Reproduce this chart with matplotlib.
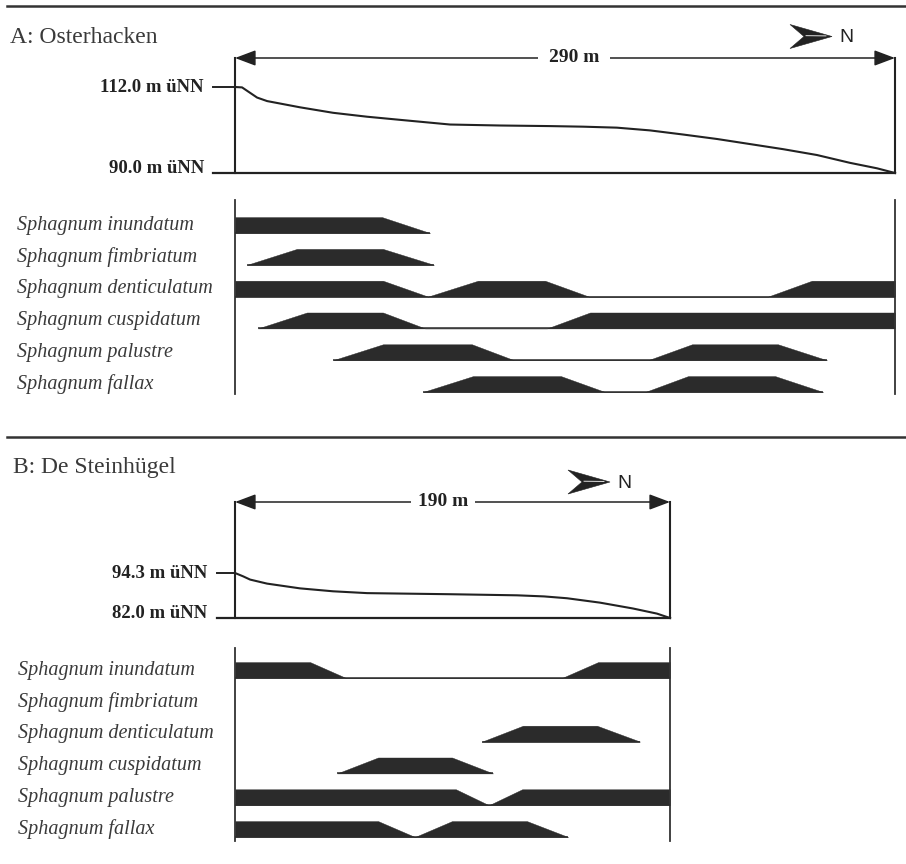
import matplotlib
matplotlib.use('Agg')
import matplotlib.pyplot as plt
import matplotlib.transforms as mtrans
from matplotlib.patches import Polygon
from matplotlib.lines import Line2D

# ------------------------------------------------------------------ data
species = ['Sphagnum inundatum', 'Sphagnum fimbriatum', 'Sphagnum denticulatum',
           'Sphagnum cuspidatum', 'Sphagnum palustre', 'Sphagnum fallax']

# Transect A: Osterhacken
a_title = 'A: Osterhacken'
a_length = 290
a_top_elev, a_base_elev = 112.0, 90.0
a_top_label, a_base_label = '112.0 m üNN', '90.0 m üNN'
a_prof_dist = [0, 3.1, 9.7, 14.1, 28.6, 43.1, 58.0, 72.5, 94.5, 116.5, 138.4, 153.0, 167.8,
               182.3, 196.8, 211.8, 226.3, 240.8, 255.7, 270.2, 282.1, 290]
a_prof_elev = [112.0, 111.9, 109.3, 108.4, 106.8, 105.4, 104.4, 103.6, 102.4, 102.15, 102.0, 101.85, 101.6,
               100.9, 99.85, 98.7, 97.4, 96.1, 94.6, 92.6, 91.2, 90.0]

a_inundatum_d = [0, 64.6, 85.7]
a_inundatum_v = [1, 1, 0]
a_fimbriatum_d = [5.3, 27.2, 65.0, 87.4]
a_fimbriatum_v = [0, 1, 1, 0]
a_denticulatum_d = [0, 65.0, 84.8, 106.8, 136.2, 155.5, 234.2, 253.5, 290]
a_denticulatum_v = [1, 1, 0, 1, 1, 0, 0, 1, 1]
a_cuspidatum_d = [10.1, 31.6, 65.0, 83.5, 137.1, 156.0, 290]
a_cuspidatum_v = [0, 1, 1, 0, 0, 1, 1]
a_palustre_d = [43.1, 65.0, 104.1, 122.6, 181.5, 200.8, 238.6, 260.1]
a_palustre_v = [0, 1, 1, 0, 0, 1, 1, 0]
a_fallax_d = [82.6, 104.6, 143.2, 162.6, 180.2, 199.1, 237.3, 258.4]
a_fallax_v = [0, 1, 1, 0, 0, 1, 1, 0]

# Transect B: De Steinhügel
b_title = 'B: De Steinhügel'
b_length = 190
b_top_elev, b_base_elev = 94.3, 82.0
b_top_label, b_base_label = '94.3 m üNN', '82.0 m üNN'
b_prof_dist = [0, 3.5, 6.6, 14.0, 28.4, 42.8, 57.7, 93.9, 123.2, 135.0, 145.0, 159.4, 173.8, 184.3, 190]
b_prof_elev = [94.3, 93.4, 92.5, 91.4, 90.1, 89.3, 88.8, 88.5, 88.2, 87.9, 87.4, 86.2, 84.6, 83.2, 82.0]

b_inundatum_d = [0, 32.8, 48.5, 142.8, 158.6, 190]
b_inundatum_v = [1, 1, 0, 0, 1, 1]
b_fimbriatum_d = []
b_fimbriatum_v = []
b_denticulatum_d = [107.9, 125.8, 158.1, 176.9]
b_denticulatum_v = [0, 1, 1, 0]
b_cuspidatum_d = [44.6, 62.5, 94.8, 112.7]
b_cuspidatum_v = [0, 1, 1, 0]
b_palustre_d = [0, 96.5, 110.9, 125.4, 190]
b_palustre_v = [1, 1, 0, 1, 1]
b_fallax_d = [0, 62.5, 78.6, 94.8, 127.5, 145.5]
b_fallax_v = [1, 1, 0, 1, 1, 0]

a_bands = [(a_inundatum_d, a_inundatum_v), (a_fimbriatum_d, a_fimbriatum_v),
           (a_denticulatum_d, a_denticulatum_v), (a_cuspidatum_d, a_cuspidatum_v),
           (a_palustre_d, a_palustre_v), (a_fallax_d, a_fallax_v)]
b_bands = [(b_inundatum_d, b_inundatum_v), (b_fimbriatum_d, b_fimbriatum_v),
           (b_denticulatum_d, b_denticulatum_v), (b_cuspidatum_d, b_cuspidatum_v),
           (b_palustre_d, b_palustre_v), (b_fallax_d, b_fallax_v)]

# ------------------------------------------------------------------ style
W, H = 906, 864
SERIF = 'Liberation Serif'
SANS = 'Liberation Sans'
INK = '#222222'
BAND = '#2b2b2b'
GREY_TXT = '#3a3a3a'
BAND_H = 0.5

fig = plt.figure(figsize=(W / 100, H / 100), dpi=100)
fig.patch.set_facecolor('white')
PX = mtrans.Affine2D().scale(1 / W, -1 / H).translate(0, 1) + fig.transFigure


def px_axes(x0, y0, x1, y1):
    ax = fig.add_axes([x0 / W, 1 - y1 / H, (x1 - x0) / W, (y1 - y0) / H])
    ax.set_axis_off()
    return ax


def header(y_rule, title, x_title, y_title):
    fig.add_artist(Line2D([7, W], [y_rule, y_rule], transform=PX, color='#333333', lw=1.8))
    fig.text(x_title / W, 1 - y_title / H, title, fontfamily=SERIF, fontsize=17,
             color=GREY_TXT, ha='left', va='baseline')


def north(tip_x, cy):
    poly = [(tip_x, cy), (tip_x - 42, cy - 12), (tip_x - 28, cy), (tip_x - 42, cy + 12)]
    fig.add_artist(Polygon(poly, closed=True, transform=PX, fc=INK, ec=INK, lw=0.4))
    fig.add_artist(Line2D([tip_x - 26, tip_x - 6], [cy - 0.8, cy - 0.6], transform=PX,
                          color='white', lw=0.6))
    fig.text((tip_x + 7) / W, 1 - (cy + 1.5) / H, 'N', fontfamily=SANS, fontsize=14,
             color=INK, ha='left', va='center')


def profile(box, length, top_e, base_e, top_lab, base_lab, dist, elev,
            tick_px, label_px, arrow_px, dist_label, dist_label_px, pad):
    x0, y0, x1, y1 = box
    ax = px_axes(x0, y0, x1, y1)
    ax.set_xlim(0, length)
    ax.set_ylim(base_e, top_e)
    wpx, hpx = x1 - x0, y1 - y0
    bx = mtrans.blended_transform_factory(ax.transAxes, ax.transData)
    by = mtrans.blended_transform_factory(ax.transData, ax.transAxes)
    tick_f = (tick_px - x0) / wpx
    arrow_f = (y1 - arrow_px) / hpx
    # profile curve
    ax.plot(dist, elev, color=INK, lw=1.5, clip_on=False, solid_joinstyle='round')
    # base line and top tick
    ax.plot([tick_f, 1], [base_e, base_e], transform=bx, color=INK, lw=1.6, clip_on=False)
    ax.plot([tick_f, 0], [top_e, top_e], transform=bx, color=INK, lw=1.4, clip_on=False)
    # vertical end lines
    for xv in (0, length):
        ax.plot([xv, xv], [0, arrow_f], transform=by, color=INK, lw=1.5, clip_on=False)
    # dimension arrow
    ax.annotate('', xy=(0, arrow_f), xytext=(length, arrow_f),
                xycoords=('data', 'axes fraction'), textcoords=('data', 'axes fraction'),
                arrowprops=dict(arrowstyle='<|-|>,head_length=0.85,head_width=0.32',
                                mutation_scale=15, color=INK, lw=1.1,
                                shrinkA=0, shrinkB=0), annotation_clip=False)
    ax.text((dist_label_px - x0) / wpx, arrow_f, dist_label, transform=ax.transAxes,
            fontfamily=SERIF, fontweight='bold', fontsize=14, color=INK,
            ha='center', va='center', zorder=5,
            bbox=dict(facecolor='white', edgecolor='none', pad=pad))
    lab_f = (label_px - x0) / wpx
    ax.annotate(top_lab, xy=(lab_f, top_e), xycoords=bx, xytext=(0, -3.6),
                textcoords='offset points', ha='right', va='baseline',
                fontfamily=SERIF, fontweight='bold', fontsize=13.5, color=INK,
                annotation_clip=False)
    ax.annotate(base_lab, xy=(lab_f, base_e), xycoords=bx, xytext=(0, 0),
                textcoords='offset points', ha='right', va='baseline',
                fontfamily=SERIF, fontweight='bold', fontsize=13.5, color=INK,
                annotation_clip=False)
    return ax


def bands(box, length, first_bottom_px, spacing_px, bands_data, label_px):
    x0, y0, x1, y1 = box
    ax = px_axes(x0, y0, x1, y1)
    ax.set_xlim(0, length)
    ax.set_ylim((y1 - first_bottom_px) / spacing_px, (y0 - first_bottom_px) / spacing_px)
    ax.axvline(0, color='#333333', lw=1.3, clip_on=False)
    ax.axvline(length, color='#333333', lw=1.3, clip_on=False)
    lt = mtrans.blended_transform_factory(fig.transFigure, ax.transData)
    for i, (name, (d, v)) in enumerate(zip(species, bands_data)):
        ax.text(label_px / W, i - BAND_H / 2, name, transform=lt, fontfamily=SERIF,
                fontstyle='italic', fontsize=14.5, color=GREY_TXT, ha='left', va='center')
        if not d:
            continue
        top = [i - BAND_H * vv for vv in v]
        ax.fill_between(d, [i] * len(d), top, color=BAND, lw=0.3, ec=BAND)
        ax.plot([d[0], d[-1]], [i, i], color=BAND, lw=1.1, solid_capstyle='butt')
    return ax


# ------------------------------------------------------------------ panel A
header(6, a_title, 10, 43)
north(832, 36.5)
profile((235, 87, 895, 173), a_length, a_top_elev, a_base_elev, a_top_label, a_base_label,
        a_prof_dist, a_prof_elev, tick_px=213, label_px=204, arrow_px=58,
        dist_label='290 m', dist_label_px=574, pad=8)
bands((235, 200, 895, 394), a_length, 233, 31.8, a_bands, label_px=17)

# ------------------------------------------------------------------ panel B
header(437, b_title, 13, 473)
north(610, 482)
profile((235, 573, 670, 618), b_length, b_top_elev, b_base_elev, b_top_label, b_base_label,
        b_prof_dist, b_prof_elev, tick_px=217, label_px=207, arrow_px=502,
        dist_label='190 m', dist_label_px=443, pad=5)
bands((235, 648, 670, 841), b_length, 678, 31.8, b_bands, label_px=18)

fig.savefig('out.png', dpi=100, facecolor='white')
